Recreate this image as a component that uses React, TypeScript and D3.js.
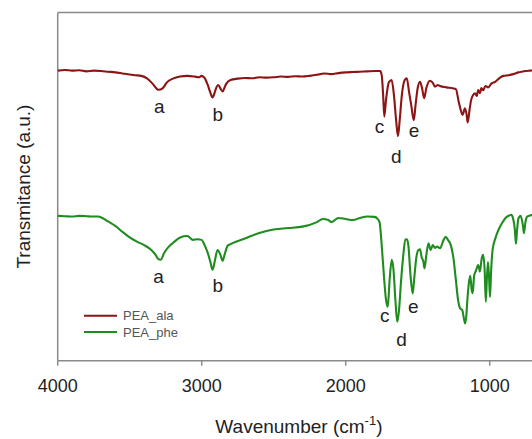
import React from "react";
import * as d3 from "d3";

// FTIR spectra: [wavenumber (cm-1), transmittance (a.u.)]
const peaAla: [number, number][] = [
  [4000, 83.3], [3950, 83.5], [3900, 83.3], [3850, 83.4], [3800, 83.1], [3750, 83.3], [3700, 83.2],
  [3650, 83.0], [3600, 82.8], [3550, 82.5], [3500, 82.2], [3460, 82.0], [3420, 81.8], [3380, 81.1],
  [3340, 79.5], [3300, 77.8], [3270, 78.3], [3240, 80.0], [3200, 81.0], [3150, 81.6], [3100, 81.8],
  [3050, 81.6], [3020, 81.4], [3000, 81.8], [2980, 81.2], [2960, 79.4], [2940, 77.0], [2925, 75.6],
  [2910, 77.0], [2900, 78.3], [2885, 79.2], [2870, 78.2], [2855, 77.3], [2840, 78.6], [2830, 79.5],
  [2800, 80.6], [2750, 81.0], [2700, 81.2], [2650, 81.1], [2600, 81.4], [2550, 81.3], [2500, 81.4],
  [2450, 81.6], [2400, 81.5], [2350, 81.7], [2300, 81.6], [2250, 81.8], [2200, 82.1], [2150, 82.5],
  [2100, 82.3], [2050, 82.6], [2000, 82.8], [1950, 82.9], [1900, 83.0], [1850, 83.1], [1800, 83.2],
  [1760, 83.2], [1750, 82.0], [1740, 76.3], [1732, 70.1], [1720, 74.9], [1700, 80.0], [1681, 80.6],
  [1665, 76.3], [1650, 69.1], [1637, 64.5], [1625, 69.1], [1610, 76.3], [1590, 80.6], [1576, 81.1],
  [1560, 77.2], [1545, 73.4], [1527, 69.1], [1515, 73.4], [1500, 78.3], [1484, 80.1], [1470, 78.3],
  [1455, 75.4], [1440, 78.3], [1415, 80.4], [1395, 79.8], [1380, 78.7], [1360, 79.2], [1345, 78.9],
  [1300, 78.5], [1253, 78.2], [1235, 78.0], [1215, 74.3], [1205, 72.6], [1188, 70.6], [1172, 72.5],
  [1160, 70.6], [1153, 68.4], [1140, 72.0], [1130, 74.7], [1115, 76.3], [1102, 76.8], [1090, 76.0],
  [1080, 77.7], [1067, 76.8], [1058, 78.3], [1045, 77.7], [1030, 78.9], [1010, 78.5], [990, 79.5],
  [962, 80.1], [930, 81.2], [906, 81.8], [870, 82.0], [836, 82.3], [800, 82.8], [778, 83.0],
  [750, 83.2], [720, 83.3], [690, 83.4], [650, 83.3],
];

const peaPhe: [number, number][] = [
  [4000, 41.6], [3950, 41.5], [3900, 41.4], [3850, 41.6], [3800, 41.5], [3760, 41.4], [3720, 41.4],
  [3690, 41.0], [3650, 40.0], [3600, 38.7], [3550, 37.0], [3500, 35.4], [3450, 34.2], [3400, 33.2],
  [3350, 31.8], [3320, 30.4], [3300, 29.1], [3285, 29.0], [3260, 31.0], [3230, 32.7], [3200, 33.8],
  [3150, 35.4], [3100, 35.8], [3060, 34.7], [3030, 34.9], [3000, 34.7], [2980, 33.2], [2960, 31.2],
  [2940, 28.4], [2925, 26.1], [2910, 28.4], [2890, 31.8], [2870, 30.4], [2855, 28.7], [2840, 30.6],
  [2820, 33.0], [2800, 33.5], [2700, 35.1], [2600, 36.7], [2500, 37.7], [2400, 38.1], [2300, 38.5],
  [2200, 39.8], [2160, 40.7], [2120, 40.4], [2100, 39.8], [2050, 41.0], [2000, 40.7], [1950, 40.4],
  [1900, 41.0], [1850, 41.4], [1800, 41.3], [1780, 40.8], [1765, 39.8], [1750, 33.2], [1735, 24.6],
  [1720, 17.5], [1708, 15.5], [1695, 23.2], [1680, 29.0], [1668, 26.1], [1655, 17.5], [1642, 11.2],
  [1630, 14.4], [1615, 23.2], [1600, 30.4], [1585, 34.8], [1575, 34.9], [1565, 33.2], [1550, 24.6],
  [1535, 19.3], [1525, 23.2], [1510, 29.5], [1495, 31.8], [1484, 32.0], [1473, 29.8], [1460, 28.3],
  [1453, 26.5], [1440, 30.4], [1425, 33.7], [1410, 31.8], [1395, 33.2], [1380, 32.4], [1365, 32.8],
  [1345, 32.3], [1320, 34.7], [1305, 35.6], [1290, 34.7], [1270, 33.2], [1250, 28.9], [1235, 23.2],
  [1220, 17.5], [1205, 15.0], [1190, 14.5], [1180, 12.3], [1170, 10.7], [1162, 13.1], [1155, 17.5],
  [1145, 22.2], [1135, 24.4], [1125, 20.3], [1118, 19.4], [1108, 24.4], [1095, 25.9], [1080, 27.5],
  [1068, 25.6], [1055, 29.5], [1045, 30.4], [1035, 25.9], [1027, 16.9], [1020, 23.2], [1012, 28.3],
  [1005, 24.4], [998, 18.3], [990, 25.9], [980, 31.8], [960, 35.2], [940, 37.5], [915, 39.5],
  [890, 41.0], [865, 41.7], [850, 41.9], [838, 40.9], [825, 37.5], [818, 33.6], [810, 37.5],
  [800, 40.9], [785, 41.6], [770, 39.0], [762, 36.6], [752, 39.8], [740, 41.4], [720, 41.7],
  [700, 41.9], [650, 41.9],
];

const seriesNames = ["PEA_ala", "PEA_phe"];
const seriesColors = ["#8c1414", "#1f8c1f"];
const xTicks = [4000, 3000, 2000, 1000];

// Band letters: [label, wavenumber position, transmittance position]
const alaBands: [string, number, number][] = [
  ["a", 3295, 71.2], ["b", 2888, 68.7], ["c", 1765, 65.3], ["d", 1648, 56.7], ["e", 1525, 64.2],
];
const pheBands: [string, number, number][] = [
  ["a", 3300, 22.2], ["b", 2888, 19.8], ["c", 1728, 11.2], ["d", 1612, 4.2], ["e", 1531, 13.8],
];

const W = 532;
const H = 439;
const left = 57.7;
const top = 12.5;
const bottom = 360.7;

export default function App() {
  const x = d3.scaleLinear().domain([4000, 650]).range([left, left + 3350 * 0.144]);
  const y = d3.scaleLinear().domain([0, 100]).range([bottom, top]);
  const line = d3
    .line<[number, number]>()
    .x((d) => x(d[0]))
    .y((d) => y(d[1]))
    .curve(d3.curveMonotoneX);

  const font = "Arial, 'Liberation Sans', sans-serif";
  const axisColor = "#8a8a8a";
  const right = x.range()[1];

  return (
    <div style={{ position: "absolute", left: 0, top: 0 }}>
      <svg width={W} height={H} style={{ display: "block", background: "#fff" }} fontFamily={font}>
        <defs>
          <clipPath id="plot">
            <rect x={left} y={top} width={right - left} height={bottom - top} />
          </clipPath>
        </defs>

        {/* frame */}
        <line x1={left} x2={right} y1={top} y2={top} stroke={axisColor} strokeWidth={1.5} />
        <line x1={left} x2={left} y1={top} y2={bottom} stroke={axisColor} strokeWidth={1.5} />
        <line x1={right} x2={right} y1={top} y2={bottom} stroke={axisColor} strokeWidth={1.5} />
        <line x1={left} x2={right} y1={bottom} y2={bottom} stroke={axisColor} strokeWidth={1.5} />

        {/* x ticks */}
        {xTicks.map((t) => (
          <g key={t}>
            <line x1={x(t)} x2={x(t)} y1={bottom} y2={bottom + 5} stroke={axisColor} strokeWidth={1.5} />
            <text x={x(t)} y={392} textAnchor="middle" fontSize={18} fill="#222">
              {t}
            </text>
          </g>
        ))}

        {/* spectra */}
        <g clipPath="url(#plot)" fill="none" strokeLinejoin="round">
          <path d={line(peaAla) || ""} stroke={seriesColors[0]} strokeWidth={2.1} />
          <path d={line(peaPhe) || ""} stroke={seriesColors[1]} strokeWidth={2.1} />
        </g>

        {/* band labels */}
        {[alaBands, pheBands].map((bands, i) =>
          bands.map(([lab, w, v]) => (
            <text key={i + lab} x={x(w)} y={y(v)} textAnchor="middle" fontSize={19} fill="#222">
              {lab}
            </text>
          ))
        )}

        {/* legend */}
        {seriesNames.map((n, i) => (
          <g key={n} transform={`translate(0, ${315.7 + i * 16.3})`}>
            <line x1={84} x2={117} y1={0} y2={0} stroke={seriesColors[i]} strokeWidth={2} />
            <text x={123} y={4.6} fontSize={13} fill="#555">
              {n}
            </text>
          </g>
        ))}

        {/* axis titles */}
        <text x={(left + right) / 2} y={432.7} textAnchor="middle" fontSize={19} fill="#222">
          Wavenumber (cm
          <tspan fontSize={13} dy={-8}>-1</tspan>
          <tspan dy={8}>)</tspan>
        </text>
        <text
          transform={`translate(30, ${(top + bottom) / 2}) rotate(-90)`}
          textAnchor="middle"
          fontSize={19}
          fill="#222"
        >
          Transmitance (a.u.)
        </text>
      </svg>
    </div>
  );
}
